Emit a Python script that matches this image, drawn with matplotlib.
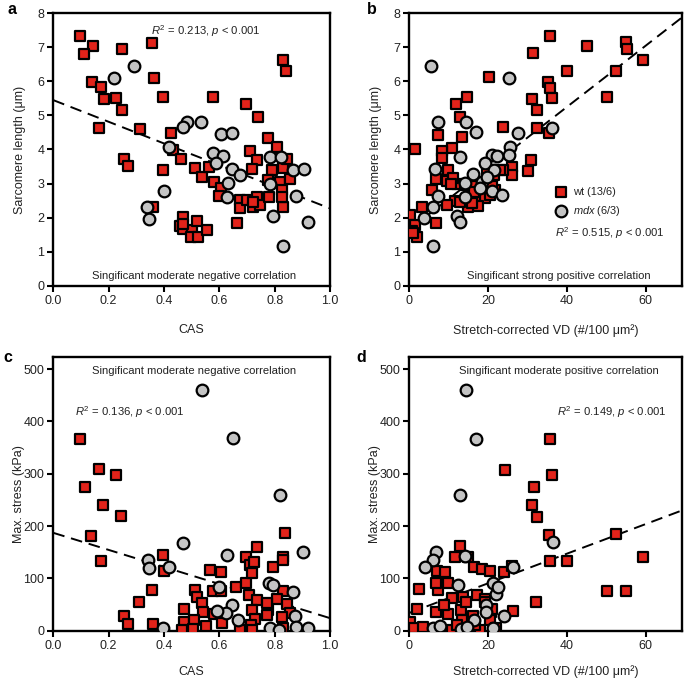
import matplotlib
matplotlib.use("Agg")
import matplotlib.pyplot as plt
import numpy as np

plt.rcParams['font.family'] = ['Liberation Sans', 'DejaVu Sans']
plt.rcParams['mathtext.fontset'] = 'custom'
plt.rcParams['mathtext.rm'] = 'Liberation Sans'
plt.rcParams['mathtext.it'] = 'Liberation Sans:italic'
plt.rcParams['mathtext.bf'] = 'Liberation Sans:bold'

# ---------------- data ----------------
# Panel a: CAS vs sarcomere length
a_wt_cas = [0.096, 0.142, 0.112, 0.247, 0.355, 0.365, 0.139, 0.172, 0.183, 0.225, 0.247, 0.165, 0.313,
            0.398, 0.578, 0.695, 0.739, 0.425, 0.434, 0.461, 0.255, 0.271, 0.398, 0.361, 0.512, 0.536,
            0.564, 0.581, 0.605, 0.600, 0.467, 0.458, 0.467, 0.500, 0.520, 0.496, 0.524, 0.554, 0.663,
            0.675, 0.675, 0.699, 0.711, 0.735, 0.717, 0.723, 0.735, 0.747, 0.777, 0.807, 0.789, 0.781,
            0.819, 0.829, 0.843, 0.855, 0.828, 0.831, 0.831, 0.840, 0.777, 0.825, 0.720, 0.470]
a_wt_sl = [7.32, 7.05, 6.81, 6.95, 7.14, 6.09, 5.99, 5.83, 5.47, 5.50, 5.16, 4.64, 4.60,
           5.53, 5.55, 5.33, 4.96, 4.48, 3.99, 3.72, 3.72, 3.53, 3.40, 2.30, 3.45, 3.18,
           3.48, 3.04, 2.86, 2.63, 2.03, 1.75, 1.66, 1.64, 1.91, 1.42, 1.42, 1.64, 1.83,
           2.52, 2.27, 2.52, 3.96, 3.69, 3.43, 2.32, 2.60, 2.37, 4.33, 4.06, 3.40, 2.60,
           3.05, 3.45, 3.71, 3.12, 2.81, 2.32, 6.63, 6.31, 3.10, 2.61, 2.45, 1.80]
a_mdx_cas = [0.292, 0.220, 0.482, 0.470, 0.534, 0.605, 0.647, 0.419, 0.576, 0.612, 0.588, 0.645, 0.632,
             0.675, 0.627, 0.400, 0.337, 0.346, 0.783, 0.822, 0.783, 0.867, 0.907, 0.877, 0.795, 0.922,
             0.831]
a_mdx_sl = [6.45, 6.09, 4.80, 4.67, 4.80, 4.45, 4.49, 4.06, 3.89, 3.81, 3.61, 3.42, 3.01,
            3.25, 2.61, 2.78, 2.32, 1.96, 3.79, 3.79, 2.99, 3.40, 3.42, 2.63, 2.05, 1.88,
            1.17]
a_fit = [5.45, -3.18]   # intercept, slope

# Panel b: stretch-corrected VD vs sarcomere length
b_wt_vd = [35.7, 45.1, 55.1, 55.3, 59.3, 31.4, 39.9, 52.5, 50.2, 20.3, 35.3, 35.7, 36.2, 31.1, 32.3,
           32.3, 35.5, 23.9, 30.9, 30.0, 26.0, 26.1, 23.9, 1.5, 14.6, 11.9, 12.9, 13.3, 7.4, 10.8,
           8.4, 8.2, 9.9, 9.5, 6.7, 5.7, 11.6, 9.5, 3.1, 0.2, 1.45, 0.6, 1.9, 1.0, 6.7, 12.0,
           15.8, 19.2, 17.6, 15.0, 19.2, 20.5, 17.4, 15.0, 12.9, 21.8, 11.2, 15.9, 21.0, 21.4,
           23.1, 14.2, 19.7, 10.5, 16.5]
b_wt_sl = [7.32, 7.05, 7.15, 6.95, 6.62, 6.82, 6.30, 6.30, 5.55, 6.12, 5.99, 5.82, 5.52, 5.47, 5.16,
           4.62, 4.48, 4.65, 3.69, 3.38, 3.50, 3.25, 3.40, 4.01, 5.53, 5.33, 4.96, 4.38, 4.43, 4.05,
           3.97, 3.74, 3.40, 3.08, 3.13, 2.81, 2.50, 2.36, 2.30, 2.07, 1.78, 1.62, 1.44, 1.55, 1.85, 2.99,
           2.93, 2.91, 2.61, 2.52, 2.57, 2.66, 2.34, 2.30, 2.47, 2.81, 3.15, 2.42, 2.93, 3.25,
           3.40, 2.96, 3.30, 3.00, 2.75]
b_mdx_vd = [5.4, 25.3, 7.4, 14.3, 16.9, 27.7, 36.3, 25.6, 25.4, 20.9, 19.2, 21.6, 16.2, 14.1, 18.5,
            20.9, 23.6, 14.1, 12.9, 6.5, 7.4, 6.1, 3.8, 12.0, 12.9, 6.1, 19.7, 22.2, 18.0]
b_mdx_sl = [6.45, 6.11, 4.80, 4.80, 4.50, 4.47, 4.63, 4.06, 3.84, 3.84, 3.61, 3.40, 3.28, 3.01, 3.06,
            2.79, 2.66, 2.61, 3.79, 3.43, 2.63, 2.32, 1.98, 2.05, 1.88, 1.18, 3.20, 3.82, 2.88]
b_fit = [1.65, 0.090]

# Panel c: CAS vs max. stress
c_wt_cas = [0.096, 0.114, 0.165, 0.227, 0.181, 0.245, 0.136, 0.171, 0.398, 0.400, 0.355, 0.311, 0.255,
            0.271, 0.361, 0.566, 0.605, 0.578, 0.606, 0.512, 0.518, 0.536, 0.542, 0.473, 0.472, 0.509,
            0.552, 0.581, 0.609, 0.660, 0.696, 0.696, 0.711, 0.717, 0.735, 0.708, 0.735, 0.777,
            0.717, 0.729, 0.713, 0.675, 0.795, 0.831, 0.837, 0.829, 0.807, 0.844, 0.855, 0.825, 0.829,
            0.771, 0.771, 0.465, 0.506, 0.717, 0.831, 0.725]
c_wt_st = [366, 274, 309, 297, 241, 219, 181, 133, 145, 114, 78, 54, 28,
           13, 13, 116, 113, 76, 76, 78, 65, 52, 36, 41, 16, 20,
           9, 32, 14, 84, 91, 141, 126, 111, 160, 68, 59, 40,
           40, 22, 11, 1, 121, 141, 186, 76, 60, 51, 34, 26, 6,
           52, 30, 2, 3, 1, 135, 132]
c_mdx_cas = [0.536, 0.651, 0.819, 0.467, 0.627, 0.904, 0.341, 0.347, 0.419, 0.600, 0.781, 0.793, 0.867,
             0.645, 0.624, 0.590, 0.669, 0.873, 0.398, 0.783, 0.877, 0.922, 0.816]
c_mdx_st = [460, 368, 259, 168, 145, 151, 135, 119, 122, 84, 92, 87, 73,
            49, 33, 38, 20, 28, 6, 5, 8, 5, 1]
c_fit = [187, -163]

# Panel d: stretch-corrected VD vs max. stress
d_wt_vd = [35.7, 24.2, 31.7, 36.2, 31.1, 32.5, 35.5, 52.5, 35.7, 40.0, 59.3, 50.2, 55.1, 32.1, 26.4,
           24.1, 26.0, 12.9, 11.6, 15.0, 16.4, 18.5, 20.5, 7.0, 9.1, 2.5, 7.4, 6.7, 9.7, 10.9,
           13.5, 17.1, 19.2, 1.9, 6.7, 9.9, 13.1, 13.3, 8.9, 0.2, 1.3, 3.6, 10.8, 17.9, 16.7,
           20.7, 20.5, 21.0, 16.2, 14.5, 12.0, 22.0, 19.3]
d_wt_st = [366, 308, 274, 297, 241, 218, 183, 184, 133, 133, 141, 76, 76, 55, 38,
           113, 124, 162, 141, 141, 121, 117, 115, 115, 113, 79, 78, 91, 92, 62,
           65, 68, 60, 41, 36, 32, 40, 20, 49, 17, 5, 8, 1, 1, 11,
           36, 20, 41, 28, 55, 10, 5, 55]
d_mdx_vd = [14.5, 17.0, 12.9, 36.4, 6.8, 6.1, 4.0, 14.2, 26.4, 12.3, 21.3, 21.9, 22.4, 19.5, 19.5,
            16.5, 24.0, 6.1, 7.8, 13.1, 21.2, 14.6]
d_mdx_st = [460, 366, 260, 169, 151, 135, 122, 143, 122, 87, 92, 71, 84, 49, 36,
            20, 28, 6, 9, 4, 6, 8]
d_fit = [34, 2.83]

# ---------------- style ----------------
RED = '#e2231a'
GRAY = '#c4c4c4'
SQ_S = 7.4 ** 2
CI_S = 8.4 ** 2
EW = 1.6
TXT = '#222222'
ANN = 8.1

fig = plt.figure(figsize=(6.85, 6.80), dpi=100)

W = 685.0
H = 680.0
def axes_px(l, r, t, b):
    return fig.add_axes([l / W, 1 - b / H, (r - l) / W, (b - t) / H])

ax_a = axes_px(53.3, 330, 13.3, 285.7)
ax_b = axes_px(409.3, 682, 13.3, 285.7)
ax_c = axes_px(53.3, 330, 357, 630.7)
ax_d = axes_px(409.3, 682, 357, 630.7)

def style(ax):
    for s in ax.spines.values():
        s.set_linewidth(1.7)
    ax.tick_params(direction='out', length=4, width=1.5, labelsize=9, pad=2.5, colors='black')
    for lab in ax.get_xticklabels() + ax.get_yticklabels():
        lab.set_color(TXT)

def draw(ax, xw, yw, xm, ym, fit, xlim):
    xs = np.array(xlim)
    ax.plot(xs, fit[0] + fit[1] * xs, ls=(0, (6, 3.5)), color='black', lw=1.4, zorder=2, clip_on=True)
    ax.scatter(xw, yw, s=SQ_S, marker='s', c=RED, edgecolors='black', linewidths=EW, zorder=3,
               label='wt (13/6)')
    ax.scatter(xm, ym, s=CI_S, marker='o', c=GRAY, edgecolors='black', linewidths=EW, zorder=4,
               label=r'$mdx$ (6/3)')

XLP = 12.5
XLP_BOT = 10.0
YLP_SL = 8
YLP_ST = -1.5
VD_LABEL = 'Stretch-corrected VD (#/100 \u03bcm\u00b2)'

# a
draw(ax_a, a_wt_cas, a_wt_sl, a_mdx_cas, a_mdx_sl, a_fit, (0, 1))
ax_a.set_xlim(0, 1)
ax_a.set_ylim(0, 8)
ax_a.set_xticks(np.arange(0, 1.01, 0.2))
ax_a.set_xticklabels(['0.0', '0.2', '0.4', '0.6', '0.8', '1.0'])
ax_a.set_yticks(range(0, 9))
ax_a.set_xlabel('CAS', fontsize=9, labelpad=XLP, color=TXT)
ax_a.set_ylabel('Sarcomere length (\u03bcm)', fontsize=9, labelpad=YLP_SL, color=TXT)
ax_a.text(0.51, 0.28, 'Singificant moderate negative correlation', fontsize=ANN, ha='center', va='center', color=TXT)
ax_a.text(0.55, 7.48, r'$R^2$ = 0.213, $p$ < 0.001', fontsize=ANN, ha='center', va='center', color=TXT)

# b
xb = (0, 69.2)
draw(ax_b, b_wt_vd, b_wt_sl, b_mdx_vd, b_mdx_sl, b_fit, xb)
ax_b.set_xlim(*xb)
ax_b.set_ylim(0, 8)
ax_b.set_xticks([0, 20, 40, 60])
ax_b.set_yticks(range(0, 9))
ax_b.set_xlabel(VD_LABEL, fontsize=9, labelpad=XLP, color=TXT)
ax_b.set_ylabel('Sarcomere length (\u03bcm)', fontsize=9, labelpad=YLP_SL, color=TXT)
ax_b.text(38, 0.28, 'Singificant strong positive correlation', fontsize=ANN, ha='center', va='center', color=TXT)
ax_b.text(51, 1.54, r'$R^2$ = 0.515, $p$ < 0.001', fontsize=ANN, ha='center', va='center', color=TXT)
leg = ax_b.legend(loc='upper left', bbox_to_anchor=(0.535, 0.362), frameon=False, fontsize=7.9,
                  handlelength=1.0, handletextpad=0.6, labelspacing=0.65, borderpad=0, borderaxespad=0)
for t in leg.get_texts():
    t.set_color(TXT)

# c
draw(ax_c, c_wt_cas, c_wt_st, c_mdx_cas, c_mdx_st, c_fit, (0, 1))
ax_c.set_xlim(0, 1)
ax_c.set_ylim(0, 523)
ax_c.set_xticks(np.arange(0, 1.01, 0.2))
ax_c.set_xticklabels(['0.0', '0.2', '0.4', '0.6', '0.8', '1.0'])
ax_c.set_yticks(range(0, 501, 100))
ax_c.set_xlabel('CAS', fontsize=9, labelpad=XLP_BOT, color=TXT)
ax_c.set_ylabel('Max. stress (kPa)', fontsize=9, labelpad=YLP_ST, color=TXT)
ax_c.text(0.51, 497, 'Singificant moderate negative correlation', fontsize=ANN, ha='center', va='center', color=TXT)
ax_c.text(0.277, 418, r'$R^2$ = 0.136, $p$ < 0.001', fontsize=ANN, ha='center', va='center', color=TXT)

# d
draw(ax_d, d_wt_vd, d_wt_st, d_mdx_vd, d_mdx_st, d_fit, xb)
ax_d.set_xlim(*xb)
ax_d.set_ylim(0, 523)
ax_d.set_xticks([0, 20, 40, 60])
ax_d.set_yticks(range(0, 501, 100))
ax_d.set_xlabel(VD_LABEL, fontsize=9, labelpad=XLP_BOT, color=TXT)
ax_d.set_ylabel('Max. stress (kPa)', fontsize=9, labelpad=YLP_ST, color=TXT)
ax_d.text(38, 497, 'Singificant moderate positive correlation', fontsize=ANN, ha='center', va='center', color=TXT)
ax_d.text(51.4, 417, r'$R^2$ = 0.149, $p$ < 0.001', fontsize=ANN, ha='center', va='center', color=TXT)

for ax in (ax_a, ax_b, ax_c, ax_d):
    style(ax)

for lab, x, y in (('a', 12, 9), ('b', 372, 9), ('c', 8, 357), ('d', 361, 357)):
    fig.text(x / W, 1 - y / H, lab, fontsize=11.5, fontweight='bold', ha='center', va='center')

fig.savefig('out.png', dpi=100)
